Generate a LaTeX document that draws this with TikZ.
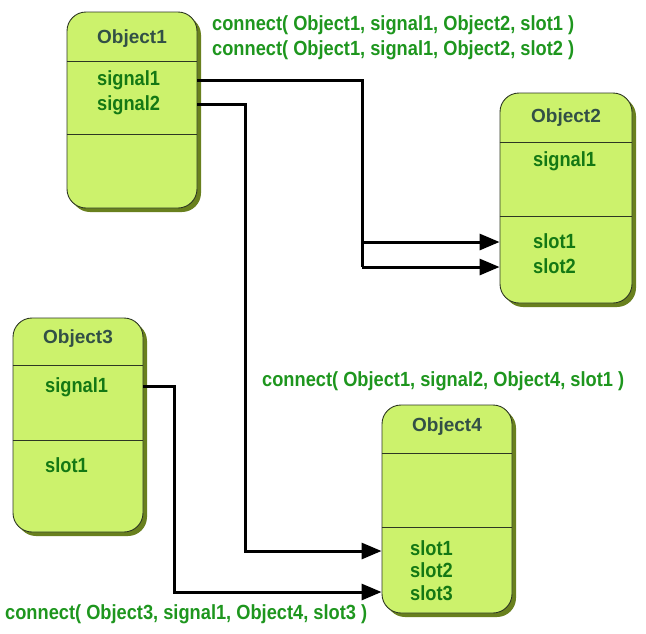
\documentclass[tikz,border=0pt]{standalone}
\usepackage{fontspec}
\setmainfont{Liberation Sans}
\newfontfamily\condfont[FakeStretch=0.89]{Liberation Sans}
\usetikzlibrary{arrows.meta,shadows}
\definecolor{boxfill}{RGB}{204,242,108}
\definecolor{boxshadow}{RGB}{105,128,30}
\definecolor{boxline}{RGB}{45,55,35}
\definecolor{titlecol}{RGB}{50,80,70}
\definecolor{membercol}{RGB}{20,120,20}
\definecolor{conncol}{RGB}{30,150,30}
\tikzset{
  obj/.style={draw=boxline, line width=0.9pt, fill=boxfill, rounded corners=19pt,
    drop shadow={shadow xshift=4pt, shadow yshift=-4pt, fill=boxshadow, opacity=1}},
  div/.style={draw=boxline, line width=0.9pt},
  objtitle/.style={text=titlecol, font=\fontsize{19}{22}\selectfont\bfseries, inner sep=0pt},
  member/.style={text=membercol, font=\condfont\fontsize{20.5}{23}\selectfont\bfseries, inner sep=0pt, anchor=base west},
  conntext/.style={text=conncol, font=\condfont\fontsize{20.5}{23}\selectfont\bfseries, inner sep=0pt, anchor=base west},
  conn/.style={line width=3pt, -{Triangle[length=20pt,width=16pt]}},
  plain/.style={line width=3pt}
}
\begin{document}
\begin{tikzpicture}[x=1pt,y=-1pt]
\useasboundingbox (0,0) rectangle (646,633);
% boxes
\node[obj, minimum width=130pt, minimum height=196pt] (o1) at (132,110) {};
\node[obj, minimum width=132pt, minimum height=210pt] (o2) at (566,198) {};
\node[obj, minimum width=130pt, minimum height=214pt] (o3) at (78,425) {};
\node[obj, minimum width=130pt, minimum height=208pt] (o4) at (447,509) {};
% dividers
\draw[div] (o1.west |- 0,61) -- (o1.east |- 0,61);
\draw[div] (o1.west |- 0,134) -- (o1.east |- 0,134);
\draw[div] (o2.west |- 0,142) -- (o2.east |- 0,142);
\draw[div] (o2.west |- 0,216) -- (o2.east |- 0,216);
\draw[div] (o3.west |- 0,365) -- (o3.east |- 0,365);
\draw[div] (o3.west |- 0,440) -- (o3.east |- 0,440);
\draw[div] (o4.west |- 0,453) -- (o4.east |- 0,453);
\draw[div] (o4.west |- 0,527) -- (o4.east |- 0,527);
% titles
\node[objtitle] (t1) at (132,39) {Object1};
\node[objtitle] (t2) at (566,118) {Object2};
\node[objtitle] (t3) at (78,339) {Object3};
\node[objtitle] (t4) at (447,427) {Object4};
% members
\node[member] (o1s1) at (97,85) {signal1};
\node[member] (o1s2) at (97,110) {signal2};
\node[member] (o2s1) at (533,166) {signal1};
\node[member] (o2t1) at (533,248) {slot1};
\node[member] (o2t2) at (533,273) {slot2};
\node[member] (o3s1) at (45,392) {signal1};
\node[member] (o3t1) at (45,472) {slot1};
\node[member] (o4t1) at (410,555) {slot1};
\node[member] (o4t2) at (410,577) {slot2};
\node[member] (o4t3) at (410,600) {slot3};
% connect texts
\node[conntext] (c1) at (212,30) {connect( Object1, signal1, Object2, slot1 )};
\node[conntext] (c2) at (212,55) {connect( Object1, signal1, Object2, slot2 )};
\node[conntext] (c3) at (262,386) {connect( Object1, signal2, Object4, slot1 )};
\node[conntext] (c4) at (5,619) {connect( Object3, signal1, Object4, slot3 )};
% routing coordinates
\coordinate (a1) at (362,80);
\coordinate (a2) at (245,104);
\coordinate (a3) at (174,386);
\coordinate (b1) at (362,242);
\coordinate (b2) at (362,267);
\coordinate (b3) at (245,551);
\coordinate (b4) at (174,592);
% connectors
\draw[plain] (o1.east |- a1) -- (a1) -- (b2);
\draw[conn] (b1) -- (o2.west |- b1);
\draw[conn] (b2) -- (o2.west |- b2);
\draw[conn] (o1.east |- a2) -- (a2) -- (b3) -- (o4.west |- b3);
\draw[conn] (o3.east |- a3) -- (a3) -- (b4) -- (o4.west |- b4);
\end{tikzpicture}
\end{document}
